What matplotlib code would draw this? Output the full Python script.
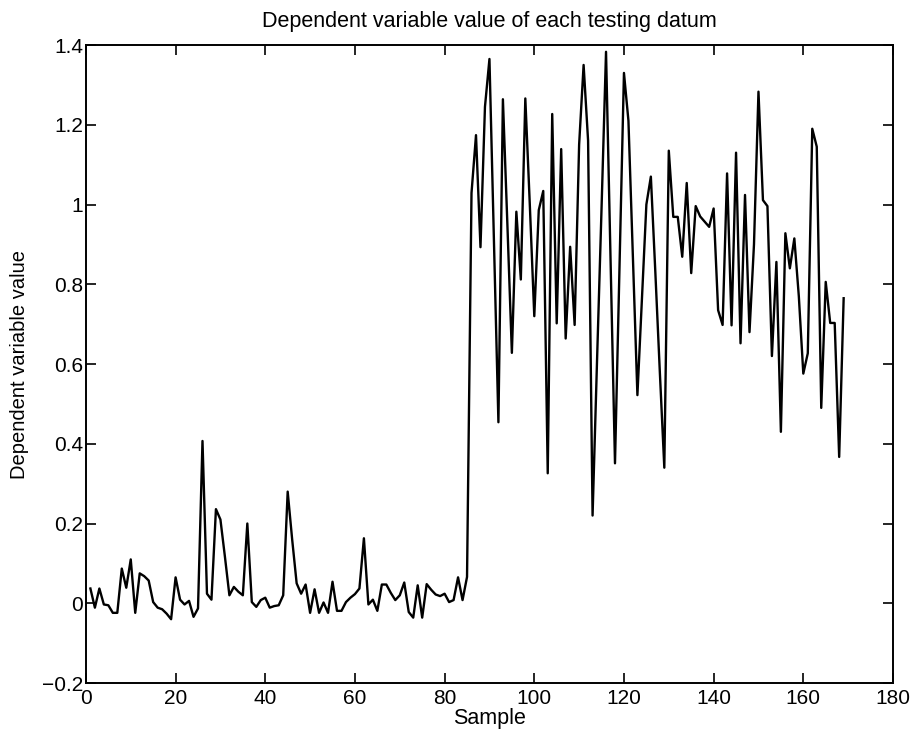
import matplotlib
matplotlib.use("Agg")
import matplotlib.pyplot as plt
from matplotlib.ticker import FuncFormatter

# sample index 1..169
samples = list(range(1, 170))

# values, in sample order
low_part = [
    0.037, -0.011, 0.037, -0.003, -0.005, -0.024, -0.024, 0.087, 0.039, 0.110,
    -0.024, 0.075, 0.068, 0.057, 0.003, -0.011, -0.015, -0.026, -0.040, 0.065,
    0.009, -0.003, 0.006, -0.034, -0.013, 0.407, 0.024, 0.009, 0.236, 0.210,
    0.117, 0.020, 0.041, 0.029, 0.020, 0.200, 0.003, -0.009, 0.008, 0.014,
    -0.011, -0.007, -0.005, 0.020, 0.280, 0.160, 0.050, 0.024, 0.047, -0.024,
    0.035, -0.024, 0.002, -0.024, 0.054, -0.019, -0.019, 0.003, 0.014, 0.023,
    0.037, 0.163, -0.003, 0.009, -0.019, 0.047, 0.047, 0.026, 0.008, 0.020,
    0.052, -0.022, -0.036, 0.045, -0.036, 0.048, 0.034, 0.022, 0.018, 0.024,
    0.003, 0.008, 0.065, 0.008, 0.066,
]
high_part = [
    1.029, 1.174, 0.893, 1.245, 1.365, 0.910, 0.454, 1.264, 0.950, 0.628,
    0.982, 0.812, 1.266, 1.000, 0.720, 0.986, 1.034, 0.326, 1.227, 0.702,
    1.139, 0.664, 0.894, 0.698, 1.150, 1.350, 1.160, 0.220, 0.610, 0.990,
    1.383, 0.870, 0.351, 0.840, 1.330, 1.210, 0.870, 0.522, 0.760, 1.000,
    1.070, 0.830, 0.580, 0.340, 1.135, 0.969, 0.969, 0.869, 1.054, 0.828,
    0.996, 0.970, 0.957, 0.944, 0.990, 0.735, 0.698, 1.078, 0.697, 1.130,
    0.652, 1.024, 0.680, 0.900, 1.283, 1.011, 0.996, 0.620, 0.856, 0.430,
    0.928, 0.840, 0.915, 0.770, 0.576, 0.627, 1.190, 1.145, 0.490, 0.806,
    0.703, 0.703, 0.367, 0.765,
]
values = low_part + high_part

x_ticks = [0, 20, 40, 60, 80, 100, 120, 140, 160, 180]
y_ticks = [-0.2, 0, 0.2, 0.4, 0.6, 0.8, 1.0, 1.2, 1.4]

plt.rcParams['font.family'] = ['Liberation Sans', 'DejaVu Sans']

fig = plt.figure(figsize=(9.14, 7.38), dpi=100)
ax = fig.add_axes([0.094, 0.0745, 0.883, 0.8645])
ax.plot(samples, values, color='black', linewidth=1.7)

ax.set_xlim(0, 180)
ax.set_ylim(-0.2, 1.4)
ax.set_xticks(x_ticks)
ax.set_yticks(y_ticks)

def fmt(v, pos):
    s = f"{v:g}"
    return s.replace("-", "\u2212")

ax.yaxis.set_major_formatter(FuncFormatter(fmt))
ax.tick_params(direction='in', length=7, width=1.2, top=True, right=True,
               labelsize=15)
ax.tick_params(axis='x', pad=4)
ax.tick_params(axis='y', pad=2)
for sp in ax.spines.values():
    sp.set_linewidth(1.4)

ax.set_title("Dependent variable value of each testing datum", fontsize=15.5, pad=13)
ax.set_xlabel("Sample", fontsize=15.5, labelpad=0)
ax.set_ylabel("Dependent variable value", fontsize=14.5, labelpad=9)

fig.savefig("out.png", dpi=100, facecolor='white')
